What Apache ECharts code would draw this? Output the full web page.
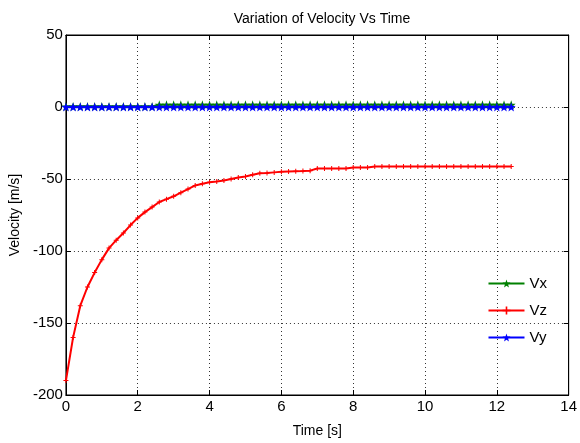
<!DOCTYPE html>
<html><head><meta charset="utf-8">
<script src="https://cdn.jsdelivr.net/npm/echarts@6/dist/echarts.min.js"></script>
<style>html,body{margin:0;padding:0;background:#fff}#c{width:580px;height:443px}</style>
</head><body><div id="c"></div>
<script>
var titleText = 'Variation of Velocity Vs Time';
var xName = 'Time [s]';
var yName = 'Velocity [m/s]';
var seriesNames = ['Vx', 'Vz', 'Vy'];
var time = [0,0.2,0.4,0.6,0.8,1.0,1.2,1.4,1.6,1.8,2.0,2.2,2.4,2.6,2.8,3.0,3.2,3.4,3.6,3.8,4.0,4.2,4.4,4.6,4.8,5.0,5.2,5.4,5.6,5.8,6.0,6.2,6.4,6.6,6.8,7.0,7.2,7.4,7.6,7.8,8.0,8.2,8.4,8.6,8.8,9.0,9.2,9.4,9.6,9.8,10.0,10.2,10.4,10.6,10.8,11.0,11.2,11.4,11.6,11.8,12.0,12.2,12.4];
var vz = [-190,-160,-138,-125,-115,-106,-98,-92.5,-87.5,-82,-77,-73,-69.5,-66,-64,-62,-59.5,-57,-54.5,-53.3,-52.3,-51.7,-51,-50,-49,-48.2,-47,-46,-45.8,-45.4,-45,-44.8,-44.6,-44.5,-44.2,-42.7,-42.7,-42.7,-42.7,-42.7,-42,-42,-42,-41.3,-41.3,-41.3,-41.3,-41.3,-41.3,-41.3,-41.3,-41.3,-41.3,-41.3,-41.3,-41.3,-41.3,-41.3,-41.3,-41.3,-41.3,-41.3,-41.3];
var vx = [0.3,0.3,0.3,0.3,0.3,0.3,0.3,0.3,0.3,0.3,0.3,0.3,0.3,1.5,1.5,1.5,1.5,1.5,1.5,1.5,1.5,1.5,1.5,1.5,1.5,1.5,1.5,1.5,1.5,1.5,1.5,1.5,1.5,1.5,1.5,1.5,1.5,1.5,1.5,1.5,1.5,1.5,1.5,1.5,1.5,1.5,1.5,1.5,1.5,1.5,1.5,1.5,1.5,1.5,1.5,1.5,1.5,1.5,1.5,1.5,1.5,1.5,1.5];
var vy = [0,0,0,0,0,0,0,0,0,0,0,0,0,0,0,0,0,0,0,0,0,0,0,0,0,0,0,0,0,0,0,0,0,0,0,0,0,0,0,0,0,0,0,0,0,0,0,0,0,0,0,0,0,0,0,0,0,0,0,0,0,0,0];

function pairs(ys){ return time.map(function(t,i){ return [t, ys[i]]; }); }
var FONT = "'Liberation Sans Narrow','Liberation Sans',Arial,sans-serif";
var STAR = 'path://M0,-10 L2.35,-3.24 9.51,-3.09 3.8,1.24 5.88,8.09 0,4 -5.88,8.09 -3.8,1.24 -9.51,-3.09 -2.35,-3.24 Z';
var PLUS = 'path://M-1,-5 H1 V-1 H5 V1 H1 V5 H-1 V1 H-5 V-1 H-1 Z';
var grid = {left:65, right:11, top:35, bottom:41, show:true, borderColor:'#000', borderWidth:1, backgroundColor:'#fff'};
var split = {show:true, lineStyle:{color:'#000', type:[1,3], width:1, opacity:0.8}};
var chart = echarts.init(document.getElementById('c'), null, {renderer:'canvas'});
chart.setOption({
  backgroundColor:'#fff',
  animation:false,
  title:{text:titleText, left:317, textAlign:'center', top:7, textStyle:{fontFamily:FONT, fontSize:14, fontWeight:'normal', color:'#000'}},
  grid:grid,
  legend:{orient:'vertical', right:28, top:271, itemWidth:36, itemHeight:10, itemGap:12, data:seriesNames,
    textStyle:{fontFamily:FONT, fontSize:15, color:'#000'}},
  xAxis:[
    {type:'value', min:0, max:14, interval:2, name:xName, nameLocation:'middle', nameGap:29,
     nameTextStyle:{fontFamily:FONT, fontSize:14, color:'#000'},
     axisLine:{onZero:false, lineStyle:{color:'#000'}}, axisTick:{inside:true, length:5, lineStyle:{color:'#000'}},
     axisLabel:{fontFamily:FONT, fontSize:15, color:'#000', margin:4}, splitLine:split},
    {type:'value', position:'top', min:0, max:14, interval:2, axisLine:{show:true, onZero:false, lineStyle:{color:'#000'}},
     axisTick:{inside:true, length:5, lineStyle:{color:'#000'}}, axisLabel:{show:false}, splitLine:{show:false}}
  ],
  yAxis:[
    {type:'value', min:-200, max:50, interval:50, name:yName, nameLocation:'middle', nameGap:38,
     nameTextStyle:{fontFamily:FONT, fontSize:14, color:'#000'},
     axisLine:{show:true, onZero:false, lineStyle:{color:'#000'}}, axisTick:{show:true, inside:true, length:5, lineStyle:{color:'#000'}},
     axisLabel:{fontFamily:FONT, fontSize:15, color:'#000', margin:3}, splitLine:split},
    {type:'value', position:'right', min:-200, max:50, interval:50, axisLine:{show:true, onZero:false, lineStyle:{color:'#000'}},
     axisTick:{show:true, inside:true, length:5, lineStyle:{color:'#000'}}, axisLabel:{show:false}, splitLine:{show:false}}
  ],
  series:[
    {name:seriesNames[0], type:'line', data:pairs(vx), color:'#008000', lineStyle:{width:2}, symbol:STAR, symbolSize:9, showAllSymbol:true},
    {name:seriesNames[1], type:'line', data:pairs(vz), color:'#ff0000', lineStyle:{width:2}, symbol:PLUS, symbolSize:5, showAllSymbol:true},
    {name:seriesNames[2], type:'line', data:pairs(vy), color:'#0000ff', lineStyle:{width:2.5}, symbol:STAR, symbolSize:9, showAllSymbol:true}
  ]
});
</script></body></html>
